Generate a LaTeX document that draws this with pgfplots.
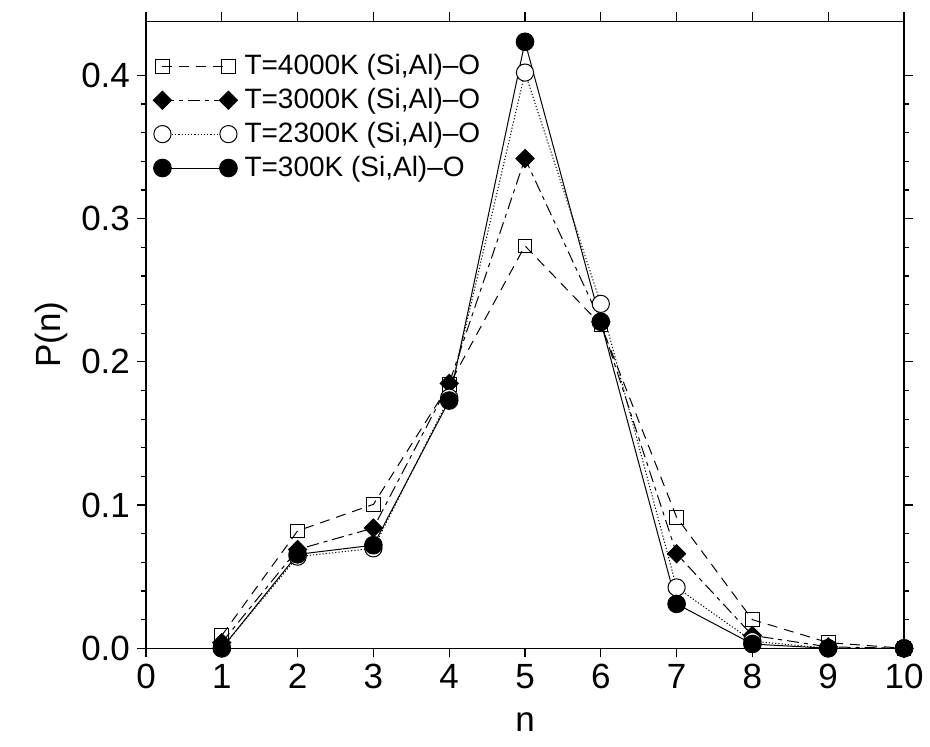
\documentclass[border=0pt]{standalone}
\usepackage{pgfplots}
\pgfplotsset{compat=1.18}
\usepackage{fontspec}
\setmainfont{Liberation Sans}
\begin{document}
\begin{tikzpicture}
\begin{axis}[
  scale only axis,
  width=379pt, height=313.5pt,
  xmin=0, xmax=10, ymin=0, ymax=0.4378,
  xtick={0,1,...,10},
  ytick={0,0.1,0.2,0.3,0.4},
  minor y tick num=4,
  tick align=outside,
  major tick length=4.5pt,
  minor tick length=2.5pt,
  every tick/.style={black, line width=0.6pt},
  axis line style={line width=0.8pt},
  /pgf/number format/assume math mode=true,
  yticklabel style={/pgf/number format/fixed, /pgf/number format/fixed zerofill, /pgf/number format/precision=1},
  ticklabel style={font=\fontsize{17.5}{20}\selectfont},
  label style={font=\fontsize{17.5}{20}\selectfont},
  xlabel={n}, ylabel={P(n)},
  xlabel style={yshift=-5pt},
  legend cell align=left,
  legend style={draw=none, fill=none, at={(0,1)}, anchor=north west, xshift=2.5pt, yshift=-13.5pt,
     font=\fontsize{14}{16}\selectfont, row sep=1.3pt, inner sep=1pt,
     nodes={inner xsep=3.5pt}},
  legend image code/.code={\draw[#1] plot coordinates {(0pt,0pt) (33pt,0pt)};},
]
\addplot[black, line width=0.5pt, dash pattern=on 5pt off 3.5pt, mark=square, mark size=3.4pt, mark options={solid, fill=white}]
 coordinates {(1,0.009) (2,0.082) (3,0.1005) (4,0.184) (5,0.281) (6,0.226) (7,0.0915) (8,0.020) (9,0.004) (10,0.0)};
\addlegendentry{T=4000K (Si,Al)--O}
\addplot[black, line width=0.5pt, dash pattern=on 6pt off 2.5pt on 2pt off 2.5pt, mark=square*, mark size=3.2pt, mark options={solid, fill=black, rotate=45}]
 coordinates {(1,0.004) (2,0.069) (3,0.084) (4,0.185) (5,0.342) (6,0.228) (7,0.066) (8,0.009) (9,0.001) (10,0)};
\addlegendentry{T=3000K (Si,Al)--O}
\addplot[black, line width=0.5pt, dash pattern=on 0.6pt off 1pt, mark=*, mark size=4.3pt, mark options={solid, fill=white}]
 coordinates {(1,0.0) (2,0.064) (3,0.0698) (4,0.175) (5,0.402) (6,0.2405) (7,0.0425) (8,0.005) (9,0) (10,0)};
\addlegendentry{T=2300K (Si,Al)--O}
\addplot[black, line width=0.5pt, solid, mark=*, mark size=4.4pt, mark options={solid, fill=black}]
 coordinates {(1,0) (2,0.0656) (3,0.072) (4,0.173) (5,0.4235) (6,0.228) (7,0.031) (8,0.003) (9,0) (10,0)};
\addlegendentry{T=300K (Si,Al)--O}
\end{axis}
\pgfresetboundingbox
\path[use as bounding box] (-73pt,-48.85pt) rectangle (392pt,324.15pt);
\end{tikzpicture}
\end{document}
